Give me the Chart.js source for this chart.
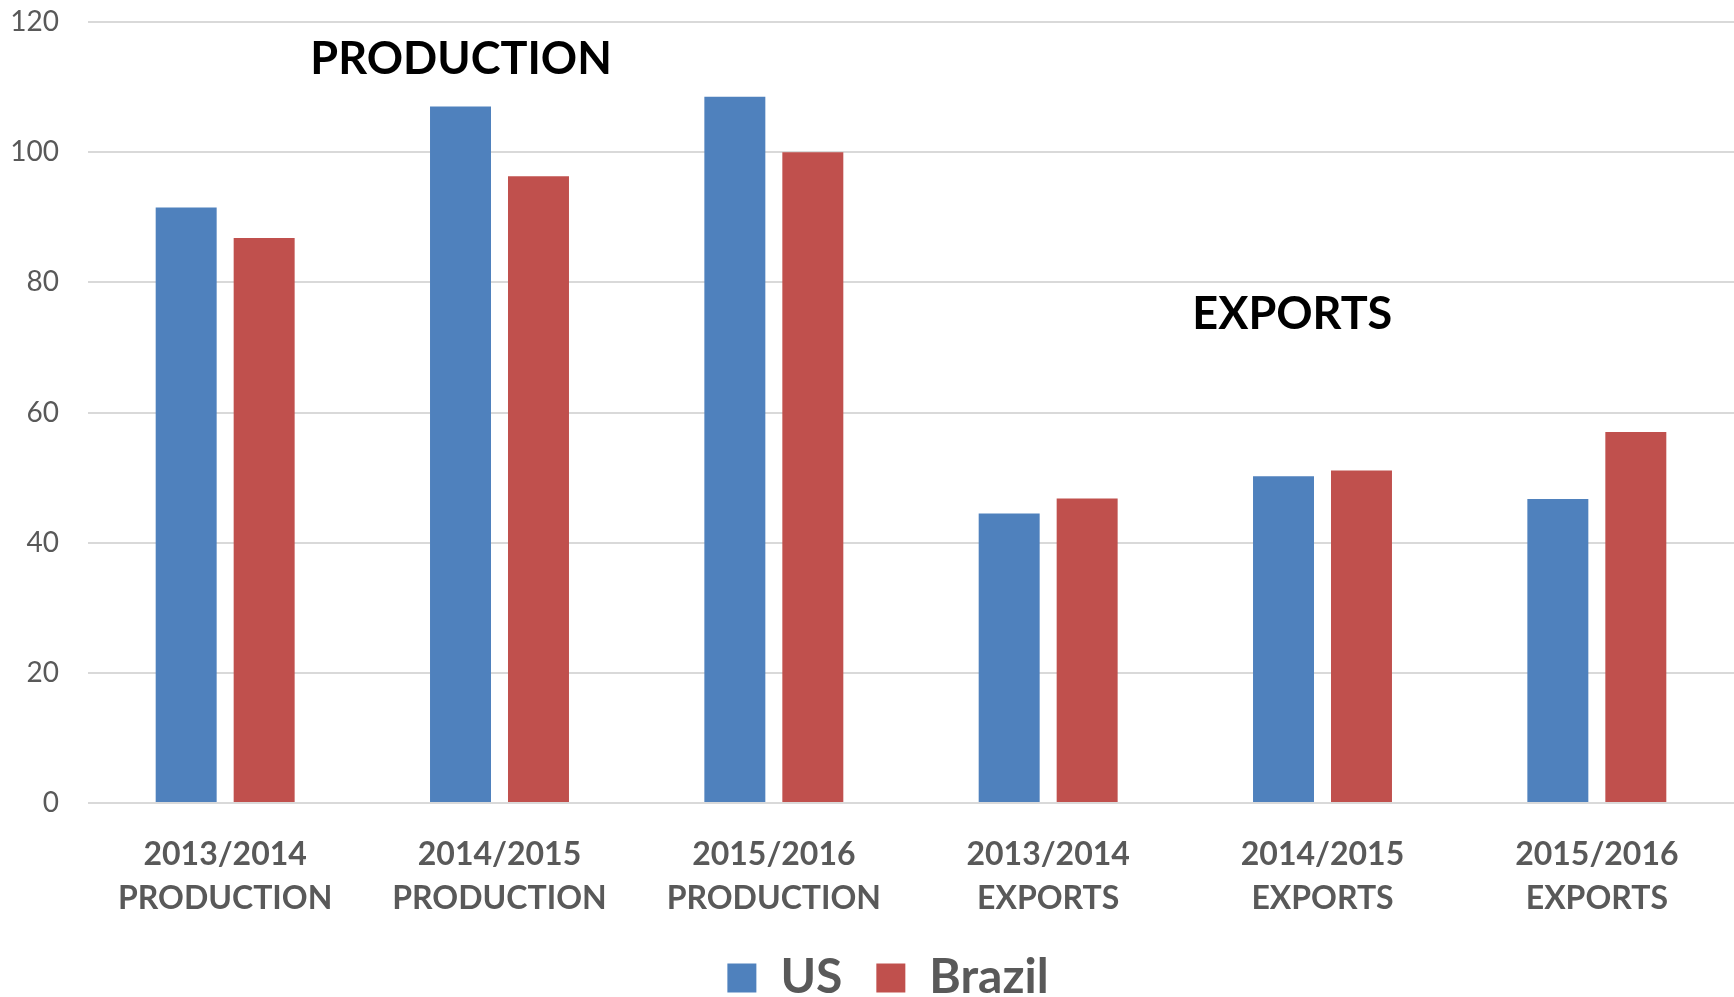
<!DOCTYPE html>
<html>
<head>
<meta charset="utf-8">
<script src="https://cdn.jsdelivr.net/npm/chart.js@4.4.1/dist/chart.umd.min.js"></script>
<style>
  html, body { margin: 0; padding: 0; background: #ffffff; }
  #wrap { width: 1734px; height: 997px; position: relative; }
</style>
</head>
<body>
<div id="wrap"><canvas id="chart"></canvas></div>
<script>
// Categories (two-line axis labels)
const categories = [
  ['2013/2014', 'PRODUCTION'],
  ['2014/2015', 'PRODUCTION'],
  ['2015/2016', 'PRODUCTION'],
  ['2013/2014', 'EXPORTS'],
  ['2014/2015', 'EXPORTS'],
  ['2015/2016', 'EXPORTS']
];

// Series values
const usValues = [91.5, 107.0, 108.5, 44.5, 50.2, 46.7];
const brazilValues = [86.8, 96.3, 100.0, 46.8, 51.1, 57.0];

// Value axis
const yMin = 0;
const yMax = 120;
const yStep = 20;

// Section captions drawn inside the plot
const sectionTitles = ['PRODUCTION', 'EXPORTS'];

const FONT = 'Lato, "Open Sans", "DejaVu Sans", sans-serif';
const GREY_TEXT = '#595959';

// Draws the section captions, anchored through the chart's own scales
const sectionCaptions = {
  id: 'sectionCaptions',
  afterDatasetsDraw(chart, args, opts) {
    const { ctx, scales: { x, y } } = chart;
    ctx.save();
    ctx.font = 'bold 45px ' + FONT;
    ctx.fillStyle = '#000000';
    ctx.textAlign = 'center';
    ctx.textBaseline = 'middle';
    opts.anchors.forEach((a, i) => {
      ctx.fillText(sectionTitles[i], x.getPixelForValue(a.at), y.getPixelForValue(a.value));
    });
    ctx.restore();
  }
};

// Nudges the legend row sideways
const legendShift = {
  id: 'legendShift',
  afterLayout(chart, args, opts) {
    const lg = chart.legend;
    if (lg) { lg.left += opts.dx; lg.right += opts.dx; }
  }
};

new Chart(document.getElementById('chart'), {
  type: 'bar',
  data: {
    labels: categories,
    datasets: [
      { label: 'US', data: usValues, backgroundColor: '#4F81BD', borderWidth: 0,
        categoryPercentage: 0.5685, barPercentage: 0.782 },
      { label: 'Brazil', data: brazilValues, backgroundColor: '#C0504D', borderWidth: 0,
        categoryPercentage: 0.5685, barPercentage: 0.782 }
    ]
  },
  options: {
    responsive: true,
    maintainAspectRatio: false,
    animation: false,
    layout: { padding: { top: 22, right: 0, bottom: 0, left: 0 } },
    scales: {
      x: {
        grid: { display: false, drawTicks: false },
        border: { display: false },
        ticks: {
          color: GREY_TEXT,
          padding: 30,
          maxRotation: 0,
          autoSkip: false,
          font: { family: FONT, size: 32, weight: 'bold', lineHeight: 1.375 }
        },
        afterFit(scale) { scale.height = 117; }
      },
      y: {
        min: yMin,
        max: yMax,
        border: { display: false },
        grid: { color: '#D9D9D9', lineWidth: 2, drawTicks: true, tickLength: 26, tickColor: 'rgba(0,0,0,0)' },
        ticks: {
          stepSize: yStep,
          color: GREY_TEXT,
          padding: 3,
          font: { family: FONT, size: 28 }
        },
        afterFit(scale) { scale.width = 88; }
      }
    },
    plugins: {
      legend: {
        position: 'bottom',
        maxHeight: 77,
        labels: {
          boxWidth: 29,
          boxHeight: 29,
          padding: 34,
          color: GREY_TEXT,
          font: { family: FONT, size: 48, weight: 'bold' }
        }
      },
      tooltip: { enabled: false },
      legendShift: { dx: 21 },
      sectionCaptions: {
        anchors: [
          { at: 0.86, value: 114.2 },
          { at: 3.89, value: 75.0 }
        ]
      }
    }
  },
  plugins: [sectionCaptions, legendShift]
});
</script>
</body>
</html>
